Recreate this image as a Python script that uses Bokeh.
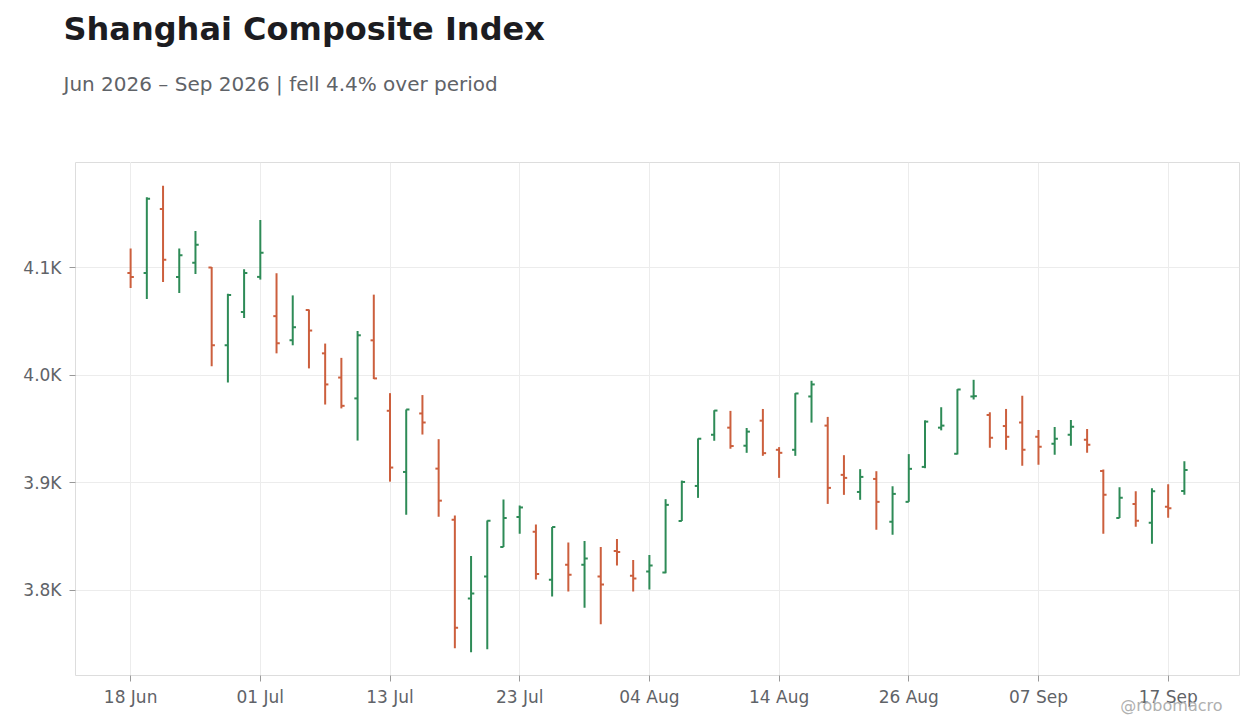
import pandas as pd
from bokeh.plotting import figure
from bokeh.models import ColumnDataSource, Range1d, FixedTicker, Title, LinearAxis
from bokeh.embed import file_html
from bokeh.resources import INLINE

# ===== DATA ==========================================
# trading days, 19 Jun 2026 is a market holiday (Dragon Boat)
dates = pd.bdate_range("2026-06-18", "2026-09-18")
dates = dates[dates != pd.Timestamp("2026-06-19")]

open_ = [4095.0, 4095.0, 4154.5, 4091.3, 4104.4, 4100.0, 4027.7, 4058.6, 4091.3, 4054.8,
         4032.4, 4060.5, 4020.2, 3997.7, 3978.3, 4032.3, 3966.8, 3909.9, 3964.3, 3913.0,
         3865.4, 3792.3, 3812.7, 3840.1, 3867.9, 3854.3, 3809.6, 3823.5, 3823.5, 3812.7,
         3836.4, 3813.3, 3817.3, 3816.4, 3864.2, 3896.9, 3944.5, 3951.1, 3934.3, 3957.6,
         3930.5, 3930.5, 3980.1, 3953.0, 3907.2, 3891.3, 3903.4, 3863.6, 3882.1, 3914.6,
         3951.1, 3926.8, 3980.1, 3962.9, 3952.6, 3955.8, 3942.6, 3936.1, 3944.5, 3939.9,
         3910.9, 3867.0, 3880.2, 3862.7, 3877.5, 3892.3]
high = [4117.8, 4165.4, 4176.0, 4117.8, 4134.0, 4100.4, 4075.7, 4098.4, 4144.2, 4094.7,
        4074.1, 4061.0, 4029.3, 4016.0, 4041.0, 4074.8, 3983.2, 3968.0, 3981.4, 3940.4,
        3869.4, 3831.8, 3864.8, 3884.3, 3878.7, 3861.1, 3858.6, 3844.4, 3845.7, 3840.1,
        3847.5, 3828.1, 3832.7, 3884.6, 3901.9, 3941.1, 3967.3, 3966.7, 3950.8, 3968.5,
        3933.0, 3983.2, 3994.7, 3961.1, 3925.5, 3912.5, 3910.6, 3896.6, 3926.5, 3957.9,
        3970.1, 3986.9, 3995.6, 3965.4, 3968.5, 3980.7, 3948.9, 3951.7, 3958.3, 3949.8,
        3912.1, 3895.7, 3892.0, 3894.8, 3898.5, 3919.9]
low = [4081.0, 4070.7, 4086.6, 4076.3, 4094.1, 4008.1, 3993.1, 4053.0, 4088.8, 4020.2,
       4027.7, 4006.2, 3972.6, 3969.0, 3939.1, 3996.3, 3900.9, 3870.2, 3944.7, 3868.3,
       3746.0, 3742.3, 3745.1, 3840.1, 3852.5, 3809.9, 3794.1, 3798.7, 3783.6, 3768.2,
       3822.8, 3798.8, 3800.6, 3815.7, 3864.2, 3885.8, 3938.9, 3931.5, 3927.7, 3924.9,
       3904.4, 3924.9, 3955.8, 3880.2, 3888.6, 3884.0, 3856.2, 3851.5, 3882.1, 3913.4,
       3948.6, 3926.2, 3977.3, 3932.4, 3930.5, 3915.6, 3916.5, 3925.9, 3934.3, 3927.7,
       3852.5, 3867.0, 3859.0, 3843.2, 3867.3, 3888.6]
close = [4091.3, 4163.9, 4107.2, 4111.5, 4121.2, 4027.7, 4074.5, 4095.0, 4113.7, 4029.6,
         4044.5, 4041.4, 3991.3, 3971.4, 4037.0, 3996.9, 3914.0, 3968.0, 3955.9, 3883.2,
         3765.1, 3796.9, 3864.5, 3867.0, 3876.9, 3815.1, 3858.6, 3814.2, 3829.4, 3805.2,
         3835.5, 3810.8, 3822.8, 3879.3, 3900.6, 3940.8, 3967.0, 3934.0, 3947.4, 3927.4,
         3927.7, 3982.9, 3991.3, 3895.1, 3904.4, 3905.3, 3882.1, 3889.5, 3912.8, 3956.7,
         3953.0, 3986.6, 3980.4, 3941.7, 3942.6, 3930.5, 3933.3, 3940.8, 3952.0, 3935.2,
         3888.6, 3885.8, 3864.5, 3892.0, 3876.2, 3911.7]

y_ticks = [3800, 3900, 4000, 4100]
y_labels = ["3.8K", "3.9K", "4.0K", "4.1K"]
x_ticks = list(range(0, len(dates), 8))

UP = "#2e8b57"
DOWN = "#cc5f3d"
FONT = "DejaVu Sans"
TICK_HALF = 0.2  # open/close tick length in bar units

# ===== PLOT ==========================================
idx = list(range(len(dates)))
colors = [UP if c >= o else DOWN for o, c in zip(open_, close)]
source = ColumnDataSource(data=dict(
    x=idx,
    xl=[i - TICK_HALF for i in idx],
    xr=[i + TICK_HALF for i in idx],
    open=open_, high=high, low=low, close=close, color=colors,
))

span = max(high) - min(low)
p = figure(width=1252, height=720,
           output_backend="svg", toolbar_location=None,
           title_location=None,
           x_range=Range1d(-3.4, len(dates) + 2.4),
           y_range=Range1d(min(low) - 0.05 * span, max(high) + 0.05 * span),
           min_border_left=75, min_border_right=13,
           min_border_top=0, min_border_bottom=45)

p.segment(x0="x", y0="low", x1="x", y1="high", source=source,
          line_color="color", line_width=2)
p.segment(x0="xl", y0="open", x1="x", y1="open", source=source,
          line_color="color", line_width=2)
p.segment(x0="x", y0="close", x1="xr", y1="close", source=source,
          line_color="color", line_width=2)

# blank axis on top, only used as a gap between frame and subtitle
gap = LinearAxis(ticker=FixedTicker(ticks=[x_ticks[0]]), axis_line_color=None,
                 major_tick_line_color="white", minor_tick_line_color=None,
                 major_tick_out=52, major_tick_in=0, minor_tick_out=0,
                 major_label_standoff=0, major_label_text_font_size="1px",
                 major_label_text_color=None)
p.add_layout(gap, "above")

# titles
sub = Title(text="Jun 2026 – Sep 2026 | fell 4.4% over period",
            text_font=FONT, text_font_size="20px", text_font_style="normal",
            text_color="#5f6368", align="left", offset=-12, standoff=30)
main = Title(text="Shanghai Composite Index",
             text_font=FONT, text_font_size="32px", text_font_style="bold",
             text_color="#1c1c21", align="left", offset=-12, standoff=14)
p.add_layout(sub, "above")
p.add_layout(main, "above")

# axes
xax = p.below[0]
yax = p.left[0]
xax.ticker = FixedTicker(ticks=x_ticks)
xax.major_label_overrides = {i: dates[i].strftime("%d %b") for i in x_ticks}
yax.ticker = FixedTicker(ticks=y_ticks)
yax.major_label_overrides = dict(zip(y_ticks, y_labels))
for ax in (xax, yax):
    ax.axis_line_color = None
    ax.major_tick_line_color = "#999999"
    ax.major_tick_out = 6
    ax.major_tick_in = 0
    ax.minor_tick_line_color = None
    ax.major_label_text_font = FONT
    ax.major_label_text_font_size = "17px"
    ax.major_label_text_color = "#5f6368"
xax.major_label_standoff = 5
yax.major_label_standoff = 8

p.xgrid.ticker = FixedTicker(ticks=x_ticks)
p.grid.grid_line_color = "#ececec"
p.outline_line_color = "#dddddd"
p.background_fill_color = "white"
p.border_fill_color = "white"

# watermark, pulled up over the axis labels
mark = Title(text="@robomacro", text_font=FONT, text_font_size="16px",
             text_font_style="normal", text_color="#b0b0b0",
             align="right", vertical_align="top", offset=17, standoff=-27)
p.add_layout(mark, "below")

open("out.html", "w").write(file_html(p, INLINE))
